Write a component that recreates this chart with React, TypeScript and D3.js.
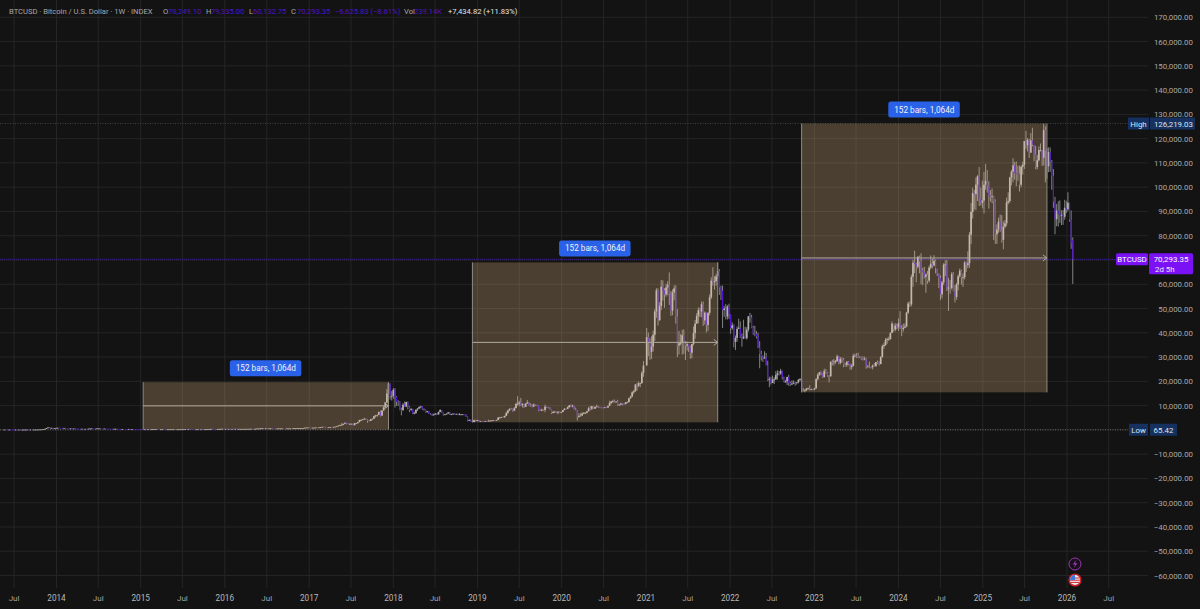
import React from "react";
import * as d3 from "d3";

// Weekly bars as [high, low, close]. Open is the previous close.
const y2013: number[][] = [[137,115,130],[135,118,122],[124,96,100],[110,98,103],[112,96,101],[104,88,95],[98,66,76],[96,74,92],[100,85,89],[98,86,96],[99,92,94],[98,92,97],[105,96,103],[122,102,117],[132,115,130],[132,118,121],[130,120,127],[128,120,122],[128,118,125],[130,110,126],[136,124,134],[170,134,165],[205,165,180],[215,178,200],[340,200,335],[470,320,420],[830,420,780],[1160,760,1000],[1150,700,800],[900,650,860],[850,520,650],[770,620,740],[860,730,830]];
const y2014: number[][] = [[1000,830,850],[880,790,830],[870,790,800],[830,750,770],[830,760,800],[810,600,650],[680,500,600],[640,510,550],[660,530,630],[680,600,620],[650,590,620],[630,540,560],[580,450,480],[490,420,450],[480,410,430],[500,420,460],[470,430,440],[450,425,440],[450,425,430],[540,430,530],[600,530,580],[680,570,650],[660,580,600],[610,550,590],[640,585,630],[650,620,630],[650,625,640],[630,610,620],[610,575,590],[600,575,590],[595,570,580],[590,500,520],[530,490,510],[520,480,500],[490,470,480],[490,470,480],[490,440,480],[480,390,400],[420,320,370],[400,340,350],[400,340,390],[395,360,370],[370,350,360],[365,340,350],[460,340,380],[385,360,370],[385,360,370],[380,350,360],[360,340,350],[340,315,330],[335,310,320],[325,305,310]];
const y2015: number[][] = [[315,260,270],[285,170,210],[260,195,250],[255,220,230],[250,215,240],[245,215,220],[265,215,240],[270,230,270],[300,260,280],[300,270,290],[295,255,270],[265,240,250],[260,235,250],[255,235,250],[250,215,240],[240,218,225],[245,220,225],[240,225,230],[248,230,240],[244,236,240],[242,230,240],[240,222,225],[232,220,225],[245,225,235],[252,240,245],[260,248,250],[275,255,260],[315,265,285],[295,265,270],[295,270,290],[298,275,280],[285,255,265],[270,200,235],[235,220,225],[235,225,230],[240,228,235],[235,224,230],[245,228,240],[240,232,235],[245,235,240],[265,240,260],[285,265,270],[335,270,320],[500,320,380],[395,310,370],[380,305,335],[340,310,325],[365,320,360],[420,355,395],[465,390,435],[470,410,455],[465,415,430]];
const y2016: number[][] = [[465,425,450],[460,360,380],[405,365,390],[395,365,370],[410,365,400],[410,370,380],[445,375,440],[450,400,410],[445,405,410],[420,405,415],[422,405,415],[425,410,420],[425,415,420],[432,418,430],[448,425,445],[465,440,460],[465,445,460],[462,440,445],[458,440,455],[535,450,530],[585,525,580],[595,560,580],[695,575,680],[780,640,720],[725,600,640],[680,625,670],[680,640,650],[665,630,660],[670,645,660],[665,480,590],[595,550,580],[595,565,570],[585,565,580],[615,570,610],[615,600,610],[630,605,620],[615,600,610],[610,590,600],[615,600,610],[622,605,615],[645,612,640],[650,625,630],[735,630,700],[745,680,705],[720,695,710],[745,700,740],[775,720,740],[780,750,770],[790,760,780],[900,785,890],[975,885,960],[1050,950,1000]];
const y2017: number[][] = [[1.15,.89,.91],[.92,.75,.82],[.93,.82,.92],[.93,.88,.92],[1.03,.9,1.02],[1.06,.98,1],[1.06,.98,1.05],[1.2,1.05,1.18],[1.28,1.15,1.27],[1.33,1.1,1.22],[1.25,.93,.97],[1.05,.89,.96],[1.1,.96,1.09],[1.21,1.08,1.19],[1.22,1.15,1.18],[1.26,1.17,1.24],[1.36,1.23,1.35],[1.62,1.34,1.57],[1.84,1.55,1.8],[2.1,1.78,2.05],[2.8,1.9,2.05],[2.55,2,2.52],[3,2.5,2.95],[2.98,2.3,2.5],[2.78,2.4,2.45],[2.6,2.35,2.5],[2.65,2.48,2.52],[2.6,1.85,1.93],[2.9,1.9,2.75],[2.85,2.6,2.75],[3.28,2.65,3.22],[4.2,3.2,4.05],[4.4,3.9,4.09],[4.45,4,4.34],[4.98,4.3,4.58],[4.7,4.1,4.22],[4.4,2.95,3.7],[4.05,3.55,3.67],[4.4,3.65,4.4],[4.65,4.2,4.61],[5.85,4.6,5.68],[6.2,5.1,6.01],[6.3,5.4,6.15],[7.5,6.1,7.4],[7.9,5.5,5.88],[8.1,5.85,8],[9.75,7.9,9.3],[11.4,8.9,11.25],[16.8,11,15],[19.67,14.8,19.1],[19.2,12.5,14],[16,12.1,14]];
const y2018: number[][] = [[17.2,12.8,16.5],[17.2,9.2,13.6],[13.9,9.9,11.6],[12.2,9.8,11.5],[11.8,8.1,8.2],[9.2,6,8.1],[11,7.9,10.4],[11.7,9.4,9.6],[11.6,9.4,11.5],[11.7,8.4,9.5],[9.9,7.3,8.2],[9.1,7.9,8.5],[8.7,6.5,6.8],[7.5,6.4,7],[8.4,6.6,8.35],[9,7.8,8.8],[9.7,8.7,9.4],[9.9,8.9,9.65],[9.8,8.3,8.7],[8.9,7.9,8.5],[8.5,7.1,7.35],[7.8,7.1,7.7],[7.8,6.6,6.7],[6.9,6.2,6.45],[6.7,5.8,6.15],[6.7,5.9,6.35],[6.85,6.2,6.75],[6.9,6.1,6.35],[7.5,6.3,7.4],[8.5,7.3,8.2],[8.2,6.9,7],[7.1,5.9,6.3],[6.6,6.1,6.4],[6.8,6.3,6.7],[7.4,6.7,7.2],[7.4,6.1,6.25],[6.6,6.1,6.5],[6.8,6.3,6.7],[6.8,6.4,6.6],[6.7,6.4,6.6],[6.7,6.1,6.3],[6.9,6.2,6.4],[6.5,6.3,6.4],[6.5,6.2,6.4],[6.5,6.3,6.35],[6.4,5.4,5.55],[5.6,3.5,3.8],[4.4,3.7,4],[4.3,3.3,3.4],[3.6,3.15,3.2],[4.2,3.2,4],[4.2,3.5,3.8]];
const y2019: number[][] = [[4.1,3.7,4.05],[4.1,3.5,3.55],[3.7,3.5,3.55],[3.65,3.4,3.53],[3.55,3.35,3.46],[3.7,3.4,3.66],[3.72,3.55,3.65],[4.2,3.65,3.75],[3.9,3.7,3.8],[3.98,3.7,3.92],[4.05,3.85,4],[4.1,3.9,3.98],[4.15,3.95,4.1],[5.3,4.1,5.06],[5.4,4.9,5.08],[5.35,5,5.28],[5.63,5.15,5.15],[5.85,5.12,5.75],[7.5,5.75,7],[8.3,6.6,8],[8.95,7.8,8.6],[9.1,8.4,8.55],[8.8,7.45,7.9],[9.4,7.8,8.95],[11.2,8.95,10.7],[13.9,10.1,10.8],[12,9.7,11.3],[13.2,9.9,10.2],[11.1,9.2,10.55],[10.7,9.1,9.5],[11.1,9.4,10.8],[12.3,10.8,11.3],[11.5,9.9,10.2],[10.9,9.6,10.1],[10.6,9.3,9.6],[10.9,9.6,10.4],[10.5,9.9,10.3],[10.4,9.9,10],[10,7.7,8.05],[8.5,7.8,7.85],[8.8,7.8,8.3],[8.4,7.9,8.2],[10.4,7.3,9.55],[9.6,9,9.2],[9.5,8.9,9.03],[9.3,8.4,8.5],[8.5,6.5,6.9],[7.9,6.9,7.4],[7.8,7.2,7.5],[7.6,6.9,7.1],[7.7,6.4,7.5],[7.6,7.1,7.3]];
const y2020: number[][] = [[7.5,6.9,7.35],[8.2,7.3,8.18],[9,8.1,8.7],[8.8,8.3,8.6],[9.6,8.6,9.35],[10.2,9.1,10.15],[10.5,9.5,9.9],[10.4,9.3,9.95],[10,8.4,8.55],[9.2,8,8],[8.2,3.85,5.35],[6.9,5,5.8],[6.9,5.8,5.88],[7.2,5.9,6.77],[7.4,6.5,6.9],[7.3,6.5,7.1],[7.8,6.8,7.7],[9.5,7.6,8.9],[9.9,8.1,8.7],[9.9,8.2,9.67],[9.9,8.7,8.72],[9.7,8.7,9.45],[10.4,9.3,9.67],[9.9,9.1,9.33],[9.6,9.1,9.3],[9.3,8.9,9.12],[9.3,8.9,9.07],[9.5,9,9.3],[9.4,9,9.2],[10,9.1,9.9],[12,9.9,11.1],[12,10.6,11.68],[12.4,11.1,11.85],[12.5,11.3,11.65],[11.8,11.1,11.7],[12.4,9.9,10.25],[10.6,9.9,10.45],[11.2,10.2,10.92],[10.95,10.1,10.75],[11,10.4,10.67],[11.5,10.5,11.4],[11.7,11.2,11.5],[13.2,11.3,13.03],[14.1,12.8,13.74],[15.9,13.5,15.48],[16.5,14.9,15.97],[18.9,15.7,18.68],[19.4,16.2,18.18],[19.9,17.6,19.15],[19.5,17.6,19.27],[24.2,19,23.5],[28.4,21.9,26.5]];
const y2021: number[][] = [[41.95,29,38.2],[40.1,30.4,36],[37.9,28.9,32.2],[38.6,29.2,34.3],[40.9,32.3,39.2],[49.7,36.6,48.8],[58.4,46.2,57.5],[58.3,43,45.2],[52.6,44.9,51],[61.8,49.3,59],[61.6,53.3,57.5],[58.4,50.3,55.8],[60.2,54.9,58.7],[61.3,55.5,59.8],[64.9,51.5,56.2],[57.2,47,49.1],[57.9,47.2,56.6],[59.5,53.4,58.3],[59.6,43.8,46.7],[49.8,30,34.8],[40.8,31.1,35.7],[39.5,34.8,35.8],[41.3,31,39],[41.4,31.3,35.6],[36.6,28.8,34.7],[36.4,32.7,35.3],[35,32.1,34.2],[34.7,29.3,31.8],[35.4,29.5,35.4],[42.6,34.8,39.9],[45.3,37.6,43.8],[48.1,43.8,47],[50.5,43.9,49.3],[50.2,46.4,48.8],[52.9,46.5,51.8],[52.9,42.8,45.1],[48.8,43.4,48.3],[48.3,40.2,43.2],[48.5,40.8,48.2],[55.8,47.2,54.7],[62.9,53.9,61.5],[67,59.5,60.9],[63.3,57.8,61.3],[64.2,59.4,63.3],[69,62.3,65.5],[66.3,55.6,58.7],[59.4,53.5,57.3],[59.5,42,49.4],[51,46.6,50],[51.9,45.5,46.7],[51.4,45.5,50.8],[52,45.7,47.7]];
const y2022: number[][] = [[47.5,39.6,41.9],[44.3,41.2,43.1],[43.5,34,36.3],[38.9,32.9,37.9],[42.6,36.3,41.6],[45.8,41.6,42.1],[44.7,37.9,38.4],[39.7,34.3,37.7],[45.4,37.4,38.4],[42.5,37.6,37.8],[42.3,37.2,41.3],[46.9,40.5,46.8],[48.2,44.2,46.4],[47.4,41.9,42.2],[42.9,39.2,39.7],[42.9,38.6,39.5],[40.8,37.7,38.5],[40,33.7,34],[36.6,25.4,31.3],[32.6,28.6,30.3],[30.7,28,29.4],[32.4,29.3,29.9],[31.7,26.6,26.6],[28.5,20.1,20.55],[21.9,17.6,21],[21.9,18.7,19.3],[22.4,19.3,20.8],[21.7,18.9,20.8],[24.2,20.7,22.6],[24.6,20.7,23.3],[24.2,22.4,23.2],[25.2,22.7,24.3],[24.4,20.8,21.5],[21.9,19.6,19.55],[20.5,19.5,20],[21.9,18.5,21.8],[22.7,18.2,19.4],[19.9,18.1,18.8],[20.4,18.5,19.05],[20.4,19,19.44],[19.9,18.2,19.26],[19.7,18.7,19.57],[21,19.2,20.63],[21.4,20,20.9],[21,15.5,16.3],[17.2,15.8,16.28],[16.8,15.5,16.43],[17.2,16,17.1],[17.4,16.7,17.1],[18.4,16.3,16.74],[17,16.4,16.84],[16.9,16.3,16.61]];
const y2023: number[][] = [[17.4,16.5,17.1],[21.3,17.1,20.9],[23.3,20.4,22.7],[23.9,22.3,23.7],[24.2,22.5,23.3],[23.4,21.4,21.8],[25.2,21.5,24.3],[25.1,23.1,23.55],[23.9,21.9,22.4],[22.6,19.6,22.1],[28.4,21.9,28],[28.9,26.6,27.9],[29.2,26.5,28.15],[28.8,27.2,28.3],[31,28.1,30.3],[30.5,27,27.6],[30,27,29.2],[29.9,27.7,28.9],[29.6,25.8,26.9],[27.7,26.1,26.75],[28.4,25.9,28.07],[28.4,26.6,27.1],[27.3,24.8,25.85],[27.2,24.8,26.35],[31.4,26.2,30.5],[31.4,29.9,30.6],[31.6,29.7,30.3],[31.8,29.6,30.24],[30.4,29.5,30.08],[30.3,28.9,29.3],[30.2,28.6,29.05],[30.2,28.7,29.3],[29.7,25.2,26.05],[26.8,25.8,26.1],[28.1,25.4,25.87],[26.1,25.3,25.83],[26.9,24.9,26.53],[27.5,26.2,26.25],[27.5,26,27.98],[28.6,27.2,27.9],[28.3,26.5,27.15],[30.4,27,29.99],[35.2,29.8,34.5],[35.9,33.4,35],[37.9,34.6,37.05],[38,35.5,37.37],[38.4,36.7,37.45],[40.2,37.2,39.97],[44.7,39.9,43.8],[43.4,40.5,41.36],[44,40.6,43],[43.8,41.4,42.27]];
const y2024: number[][] = [[45.9,40.8,43.9],[48.9,41.5,41.73],[43.2,38.6,41.55],[43.8,40.5,42.1],[43.9,41.9,42.6],[48.6,42.3,48.3],[52.8,47.8,52.1],[52.9,50.6,51.7],[64,50.9,63.1],[70.1,59,68.9],[73.8,64.6,68.4],[68.9,60.8,67.2],[71.7,66.5,71.3],[71.8,64.5,69.4],[72.8,60,65.7],[66.8,59.6,64.9],[67.2,62.4,63.1],[64.7,56.5,64],[65.5,60.2,61.5],[67.7,60.7,66.9],[71.9,66.1,68.5],[70.6,66.6,67.7],[72,67.4,69.6],[70.2,64.5,66.6],[66.3,63.4,64.2],[64.5,58.4,62.7],[63.7,53.5,55.9],[61.4,54.2,60.8],[68.7,59.7,68.1],[69.9,63.4,68.2],[70,57.2,58.2],[62.7,49,58.7],[61.8,56.1,58.4],[65,57.8,64.2],[65,57.1,57.3],[59.8,52.5,54.8],[60.6,53.6,59.9],[64.1,57.5,63.3],[66.5,62.7,65.6],[66,59.8,62.8],[64.5,58.9,62.9],[69.5,62,69],[69.4,65.1,67.9],[73.6,66.6,68.7],[81.5,66.8,80.4],[93.5,76.5,89.8],[99.8,87.1,97.6],[98.9,90.8,97.1],[104,90.5,101.1],[105,94.3,104.5],[108.3,92.2,95.1],[99.9,92.5,93.6]];
const y2025: number[][] = [[102.7,91.3,94.5],[106.3,89.2,101],[109.6,98.9,102.6],[107.1,97.8,100.6],[102.5,91.2,96.5],[98.8,94.1,96.1],[99.5,93.4,96.3],[96.5,78.2,94.2],[95,76.7,80.6],[84.7,76.6,82.6],[87.5,81.2,85.8],[88.7,81.6,82.3],[88.5,77.2,78.3],[85.9,74.4,83.7],[86.5,83,85.1],[95.7,83.9,93.7],[97.9,92.9,94.3],[104.3,93.5,104],[107.1,100.7,106.4],[111.9,102,109],[110.4,103.1,105.7],[110.6,100.4,105.6],[108.9,102.6,105.5],[108.9,98.2,101],[109,100,108.4],[110.5,105.2,109.2],[119,107.5,119],[123.2,115.8,117.3],[120.2,114.7,119.4],[119.9,112,114.2],[122.3,114.3,119.3],[124.5,116.8,117.5],[117.3,110.7,113.5],[117,107.4,108.3],[113.3,107.3,111.1],[116.8,110.6,115.3],[118,114.7,115.3],[115.3,108.7,112.1],[126.22,109,123.5],[125.1,102,115],[116.1,103.5,108.6],[116.4,106.2,114.5],[116.4,106.3,110.5],[111.2,98.9,104.7],[107.5,91.5,94],[96,80.6,86.8],[93.1,83.9,90.4],[94.2,83.8,89],[94.6,85.3,88.2],[90.5,84.4,88.6],[90.6,84.5,87.8],[94.8,86.6,91.5]];
const y2026: number[][] = [[94.4,89.3,90.9],[97.9,90,93.6],[93.6,85.8,86.6],[90.4,74.6,76.92],[79.34,60.13,70.29]];

const segmentStarts: [string, number[][], number][] = [
  ["2013-05-20", y2013, 1], ["2014-01-06", y2014, 1], ["2015-01-05", y2015, 1], ["2016-01-04", y2016, 1],
  ["2017-01-02", y2017, 1000], ["2018-01-01", y2018, 1000], ["2018-12-31", y2019, 1000], ["2019-12-30", y2020, 1000],
  ["2021-01-04", y2021, 1000], ["2022-01-03", y2022, 1000], ["2023-01-02", y2023, 1000], ["2024-01-01", y2024, 1000],
  ["2024-12-30", y2025, 1000], ["2025-12-29", y2026, 1000],
];

const priceTicks = [170, 160, 150, 140, 130, 120, 110, 100, 90, 80, 70, 60, 50, 40, 30, 20, 10, 0, -10, -20, -30, -40, -50, -60].map((d) => d * 1000);
const hiddenPriceLabels = [70000, 0];
const yearLabels = [2014, 2015, 2016, 2017, 2018, 2019, 2020, 2021, 2022, 2023, 2024, 2025, 2026];
const halfLabels = [2013, 2014, 2015, 2016, 2017, 2018, 2019, 2020, 2021, 2022, 2023, 2024, 2025, 2026];
const highValue = 126219.03;
const lowValue = 65.42;
const lastPrice = 70293.35;
const measures = [
  { start: "2015-01-12", end: "2017-12-11", low: 152, high: 19666 },
  { start: "2018-12-10", end: "2021-11-08", low: 3122, high: 69000 },
  { start: "2022-11-07", end: "2025-10-06", low: 15476, high: 126219 },
];

const FONT = "Roboto, 'Liberation Sans', Arial, sans-serif";
const UP = "#b2b2b2";
const WICK = "#a0a0a0";
const DOWN = "#5312d0";
const VIOLET = "#4c14c4";
const GRID = "#252525";

const x = d3.scaleUtc().domain([new Date("2014-01-01"), new Date("2026-01-01")]).range([56.5, 1067]);
const y = d3.scaleLinear().domain([0, 170000]).range([429.9, 17.3]);
const dayMs = 86400000;

const bars = segmentStarts.flatMap(([start, rows, unit]) =>
  rows.map((r, i) => ({
    date: new Date(+new Date(start) + i * 7 * dayMs),
    high: r[0] * unit,
    low: r[1] * unit,
    close: r[2] * unit,
  }))
);
const candles = bars.map((b, i) => ({ ...b, open: i ? bars[i - 1].close : b.close }));
candles[candles.length - 1].open = 78249.1;

const fmt = d3.format(",.2f");
const money = (v: number) => fmt(v).replace("-", "\u2212");

const headerParts: [number, string, string][] = [
  [9, "BTCUSD \u00b7 Bitcoin / U.S. Dollar \u00b7 1W \u00b7 INDEX", "#a8a8a8"],
  [163, "O", "#a8a8a8"], [168, "78,249.10", VIOLET],
  [206, "H", "#a8a8a8"], [211, "79,335.00", VIOLET],
  [249, "L", "#a8a8a8"], [253, "60,132.75", VIOLET],
  [291, "C", "#a8a8a8"], [297, "70,293.35", VIOLET],
  [335, "\u22126,625.83 (\u22128.61%)", VIOLET],
  [404, "Vol", "#a8a8a8"], [414, "239.14K", VIOLET],
  [448, "+7,434.82 (+11.83%)", "#e4e4e4"],
];

export default function App() {
  const halfX = halfLabels.map((yr) => x(new Date(`${yr}-07-01`)));
  const yearX = yearLabels.map((yr) => x(new Date(`${yr}-01-01`)));
  return (
    <svg width={1200} height={609} style={{ position: "absolute", left: 0, top: 0, background: "#131313", fontFamily: FONT }}>
      {priceTicks.map((p) => (
        <line key={p} x1={0} x2={1148} y1={y(p)} y2={y(p)} stroke={GRID} />
      ))}
      {[...yearX, ...halfX].map((px) => (
        <line key={px} x1={px} x2={px} y1={0} y2={588} stroke={GRID} />
      ))}
      <line x1={0} x2={1116} y1={y(lastPrice)} y2={y(lastPrice)} stroke="#3d1f9a" strokeDasharray="1 1" />
      <line x1={0} x2={1128} y1={y(highValue)} y2={y(highValue)} stroke="#444" strokeDasharray="1 1.5" />
      <line x1={0} x2={1128} y1={y(lowValue)} y2={y(lowValue)} stroke="#666" strokeDasharray="1 1.5" />

      {candles.map((c) => {
        const px = x(c.date);
        const isUp = c.close >= c.open;
        const top = y(Math.max(c.open, c.close));
        const h = Math.max(0.8, Math.abs(y(c.open) - y(c.close)));
        const bw = isUp ? 1.7 : 1.1;
        return (
          <g key={+c.date}>
            <line x1={px} x2={px} y1={y(c.high)} y2={y(c.low)} stroke={WICK} strokeWidth={0.8} />
            <rect x={px - bw / 2} width={bw} y={top} height={h} fill={isUp ? UP : DOWN} />
          </g>
        );
      })}

      {measures.map((m) => {
        const x0 = x(new Date(m.start));
        const x1 = x(new Date(m.end));
        const yTop = y(m.high);
        const yBot = y(m.low);
        const yMid = y((m.high + m.low) / 2);
        const cx = (x0 + x1) / 2;
        return (
          <g key={m.start}>
            <rect x={x0} y={yTop} width={x1 - x0} height={yBot - yTop} fill="rgb(251,203,143)" fillOpacity={0.24} />
            <line x1={x0} x2={x0} y1={yTop} y2={yBot} stroke="#8f8b82" />
            <line x1={x1} x2={x1} y1={yTop} y2={yBot} stroke="#8f8b82" />
            <line x1={x0} x2={x1} y1={yMid} y2={yMid} stroke="#b0aa9f" />
            <path d={`M${x1 - 4} ${yMid - 3}L${x1} ${yMid}L${x1 - 4} ${yMid + 3}`} fill="none" stroke="#b0aa9f" />
            <rect x={cx - 36} y={yTop - 22} width={71.5} height={16} rx={2.5} fill="#2962e8" />
            <text x={cx} y={yTop - 11} textAnchor="middle" fontSize={8.2} fill="#f2f2f2">152 bars, 1,064d</text>
          </g>
        );
      })}

      {headerParts.map(([px, s, color]) => (
        <text key={px} x={px} y={14} fontSize={7.6} fill={color}>{s}</text>
      ))}

      {priceTicks.filter((p) => !hiddenPriceLabels.includes(p)).map((p) => (
        <text key={p} x={1193} y={y(p) + 3} textAnchor="end" fontSize={7.9} fill="#a9a9a9">{money(p)}</text>
      ))}

      <rect x={1128} y={y(highValue) - 6} width={21} height={12} fill="#16315f" />
      <rect x={1150} y={y(highValue) - 6} width={45} height={12} fill="#16315f" />
      <text x={1138.5} y={y(highValue) + 3} textAnchor="middle" fontSize={7.9} fill="#dfe6f2">High</text>
      <text x={1193} y={y(highValue) + 3} textAnchor="end" fontSize={7.9} fill="#dfe6f2">{money(highValue)}</text>
      <rect x={1129} y={y(lowValue) - 6} width={19} height={12} fill="#16315f" />
      <rect x={1150} y={y(lowValue) - 6} width={27} height={12} fill="#16315f" />
      <text x={1138.5} y={y(lowValue) + 3} textAnchor="middle" fontSize={7.9} fill="#dfe6f2">Low</text>
      <text x={1163.5} y={y(lowValue) + 3} textAnchor="middle" fontSize={7.9} fill="#dfe6f2">{money(lowValue)}</text>

      <rect x={1116} y={y(lastPrice) - 6} width={32} height={12} rx={1.5} fill="#7a12f5" />
      <text x={1132} y={y(lastPrice) + 3} textAnchor="middle" fontSize={7.9} fill="#fff">BTCUSD</text>
      <rect x={1149} y={y(lastPrice) - 6} width={44} height={21} rx={1.5} fill="#7a12f5" />
      <text x={1171} y={y(lastPrice) + 3} textAnchor="middle" fontSize={7.9} fill="#fff">{money(lastPrice)}</text>
      <text x={1155} y={y(lastPrice) + 12.5} fontSize={7.9} fill="#f1e6ff">2d 5h</text>

      {halfX.map((px) => (
        <text key={px} x={px} y={601} textAnchor="middle" fontSize={8} fill="#a4a4a4">Jul</text>
      ))}
      {yearLabels.map((yr, i) => (
        <text key={yr} x={yearX[i]} y={601} textAnchor="middle" fontSize={8.2} fill="#b8b8b8">{yr}</text>
      ))}

      <circle cx={1075} cy={564} r={6} fill="#1a101c" stroke="#9a34b4" strokeWidth={1} />
      <path d="M1076 560L1072.8 564.6H1075L1074 568L1077.4 563.2H1075.2Z" fill="#9a34b4" />
      <circle cx={1075} cy={580} r={6.6} fill="#c8202c" />
      <circle cx={1075} cy={580} r={5} fill="#ececec" />
      <path d="M1070.6 578H1079.5M1070.2 580.2H1079.8M1071 582.4H1079" stroke="#d0222c" strokeWidth={1} />
      <path d="M1075 575A5 5 0 0 0 1070 580H1075Z" fill="#3a7be0" />
    </svg>
  );
}
